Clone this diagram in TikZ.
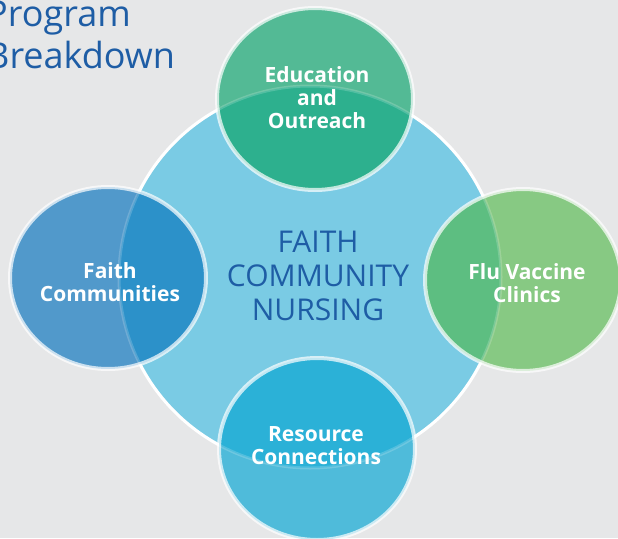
\documentclass[tikz,border=0pt]{standalone}
\usepackage{fontspec}
\setmainfont{Open Sans}
\definecolor{paper}{HTML}{E6E7E8}
\definecolor{hubfill}{HTML}{7ACBE4}
\definecolor{navy}{HTML}{1E5DA5}
\definecolor{eduout}{HTML}{53BA95}
\definecolor{eduin}{HTML}{2DB08E}
\definecolor{faithout}{HTML}{5199CB}
\definecolor{faithin}{HTML}{2C91C9}
\definecolor{fluout}{HTML}{87C983}
\definecolor{fluin}{HTML}{5DBE81}
\definecolor{resout}{HTML}{4FBBDA}
\definecolor{resin}{HTML}{2BB1D7}

\begin{document}
\begin{tikzpicture}[x=1pt,y=-1pt,
  satlabel/.style={text=white,align=center,inner sep=0pt,
    font=\fontsize{21}{23}\selectfont\bfseries},
  hubtext/.style={text=navy,align=center,inner sep=0pt,
    font=\fontsize{30}{34}\selectfont}]
\clip (0,0) rectangle (618,538);
\fill[paper] (0,0) rectangle (618,538);

% hub
\fill[hubfill] (310,277) circle [radius=191pt];
\draw[white,line width=3pt] (310,277) circle [radius=191pt];

% satellites: outer part, then the part over the hub
\foreach \cx/\cy/\outc/\inc in {315/99/eduout/eduin, 108/278/faithout/faithin,
    523/280/fluout/fluin, 317/449/resout/resin}{
  \fill[\outc] (\cx,\cy) ellipse [x radius=98pt,y radius=91pt];
  \begin{scope}
    \clip (310,277) circle [radius=191pt];
    \fill[\inc] (\cx,\cy) ellipse [x radius=98pt,y radius=91pt];
  \end{scope}
}
\draw[white,opacity=0.18,line width=3pt] (310,277) circle [radius=191pt];
\foreach \cx/\cy in {315/99, 108/278, 523/280, 317/449}
  \draw[white,opacity=0.7,line width=4pt] (\cx,\cy) ellipse [x radius=98pt,y radius=91pt];

\node[anchor=north west,inner sep=0pt,text=navy,align=left,
  font=\fontsize{36}{42}\selectfont] (title) at (-14,1) {Program\\Breakdown};

\node[hubtext] (fcn) at (318,275.5) {FAITH\\COMMUNITY\\NURSING};

\node[satlabel] (edu) at (317,98) {Education\\and\\Outreach};
\node[satlabel] (faith) at (110,282) {Faith\\Communities};
\node[satlabel] (flu) at (527,283) {Flu Vaccine\\Clinics};
\node[satlabel] (res) at (316,446) {Resource\\Connections};
\end{tikzpicture}
\end{document}
